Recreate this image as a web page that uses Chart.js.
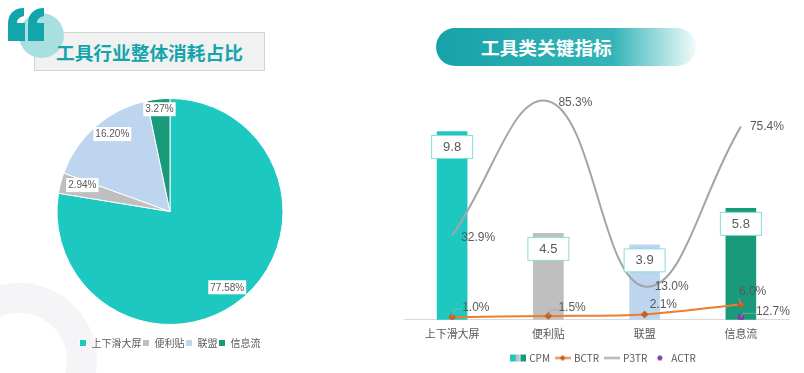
<!DOCTYPE html>
<html>
<head>
<meta charset="utf-8">
<script src="https://cdn.jsdelivr.net/npm/chart.js@4"></script>
<style>
  html, body { margin: 0; padding: 0; background: #fff; }
  #page { position: relative; width: 804px; height: 373px; overflow: hidden; font-family: "Noto Sans CJK SC", sans-serif; }
  #page > * { position: absolute; }
  .ring { left: -59px; top: 283px; width: 96px; height: 96px; border: 30px solid #f5f4f6; border-radius: 50%; }
  .title-box { left: 34px; top: 32px; width: 229px; height: 37px; background: #f1f1f1; border: 1px solid #d3d3d3; }
  .circle { left: 19px; top: 13px; width: 45px; height: 45px; border-radius: 50%; background: #a8e0e0; }
  .quote { left: 0; top: 0; }
  .title-left { left: 56px; top: 37px; font-size: 18.7px; line-height: 30px; font-weight: 700; color: #14a5ac; white-space: nowrap; }
  .pill { left: 436px; top: 28px; width: 260px; height: 38px; border-radius: 19px;
    background: linear-gradient(90deg, #16a3a8 0%, #33b4b8 68%, #f2fbfb 100%); }
  .title-right { left: 481px; top: 32px; font-size: 18.7px; line-height: 30px; font-weight: 700; color: #fff; white-space: nowrap; }
  #pieChart { left: 0; top: 86px; }
  #barChart { left: 395px; top: 74px; }
</style>
</head>
<body>
<div id="page">
  <div class="ring"></div>
  <div class="title-box"></div>
  <div class="circle"></div>
  <svg class="quote" width="60" height="50">
    <path d="M24 8 C14 8 8 14 8 24 V41 H25 V23 H17 C17 19 20 17 24 16 Z" fill="#12a5ab"/>
    <path d="M44 8 C34 8 28 14 28 24 V41 H44 V23 H37 C37 19 40 17 44 16 Z" fill="#12a5ab"/>
  </svg>
  <div class="title-left">工具行业整体消耗占比</div>
  <div class="pill"></div>
  <div class="title-right">工具类关键指标</div>
  <canvas id="pieChart" width="340" height="272"></canvas>
  <canvas id="barChart" width="405" height="299"></canvas>
</div>

<script>
// values
const pieLabels = ['上下滑大屏', '便利贴', '联盟', '信息流'];
const pieValues = [77.58, 2.94, 16.20, 3.27];
const pieColors = ['#1dc8c1', '#bfbfbf', '#bdd5ee', '#199a7b'];

const categories = ['上下滑大屏', '便利贴', '联盟', '信息流'];
const cpmValues = [9.8, 4.5, 3.9, 5.8];
const bctrValues = [1.0, 1.5, 2.1, 6.0];
const p3trValues = [32.9, 85.3, 13.0, 75.4];
const actrValues = [null, null, null, 12.7];

const textColor = '#595959';
const cjkFont = '"Noto Sans CJK SC", sans-serif';
const latinFont = '"Liberation Sans", sans-serif';

// how far along the radius each pie label sits, plus a small nudge in px
const pieLabelRadius = [0.81, 0.82, 0.86, 0.91];
const pieLabelNudge = [[-2, 6], [2, -3], [6, -4], [0, 0]];

// label offsets from their point: [dx, dy, leader line yes/no]
const p3trOffsets = [[9, 2], [10, 1], [10, 0], [9, 0]];
const bctrOffsets = [[10, -10, true], [10, -8, true], [5, -10, false], [-2, -13, true]];
const actrOffsets = [[0, 0], [0, 0], [0, 0], [15, -6, true]];

const pieLabelPlugin = {
  id: 'pieLabels',
  afterDatasetsDraw(chart) {
    const ctx = chart.ctx;
    const arcs = chart.getDatasetMeta(0).data;
    ctx.save();
    ctx.font = '10px ' + latinFont;
    ctx.textAlign = 'center';
    ctx.textBaseline = 'middle';
    arcs.forEach((arc, i) => {
      const mid = (arc.startAngle + arc.endAngle) / 2;
      const r = arc.outerRadius * pieLabelRadius[i];
      const x = arc.x + Math.cos(mid) * r + pieLabelNudge[i][0];
      const y = arc.y + Math.sin(mid) * r + pieLabelNudge[i][1];
      const text = pieValues[i].toFixed(2) + '%';
      const w = ctx.measureText(text).width + 4;
      ctx.fillStyle = '#fff';
      ctx.fillRect(x - w / 2, y - 7, w, 14);
      ctx.fillStyle = textColor;
      ctx.fillText(text, x, y + 0.5);
    });
    ctx.restore();
  }
};

function drawPointLabels(chart, datasetIndex, values, offsets) {
  const ctx = chart.ctx;
  chart.getDatasetMeta(datasetIndex).data.forEach((pt, i) => {
    if (values[i] == null) return;
    const [dx, dy, leader] = offsets[i];
    const x = pt.x + dx;
    const y = pt.y + dy;
    if (leader) {
      ctx.strokeStyle = '#a6a6a6';
      ctx.lineWidth = 0.75;
      ctx.beginPath();
      ctx.moveTo(pt.x, pt.y);
      ctx.lineTo(pt.x + Math.min(dx, 2), y + (dy < -11 ? 7 : 2));
      ctx.lineTo(x, y + (dy < -11 ? 7 : 2));
      ctx.stroke();
    }
    ctx.fillStyle = textColor;
    ctx.fillText(values[i].toFixed(1) + '%', x, y);
  });
}

const barLabelPlugin = {
  id: 'barLabels',
  // the legend sits a little right of the plot centre
  afterLayout(chart) {
    chart.legend.left += 7;
    chart.legend.right += 7;
  },
  afterDatasetsDraw(chart) {
    const ctx = chart.ctx;
    ctx.save();
    ctx.font = '12px ' + latinFont;
    ctx.textAlign = 'left';
    ctx.textBaseline = 'middle';
    drawPointLabels(chart, 1, bctrValues, bctrOffsets);
    drawPointLabels(chart, 2, p3trValues, p3trOffsets);
    drawPointLabels(chart, 3, actrValues, actrOffsets);

    // boxed CPM values hanging just under the bar tops
    ctx.font = '13px ' + latinFont;
    ctx.textAlign = 'center';
    chart.getDatasetMeta(0).data.forEach((bar, i) => {
      ctx.fillStyle = '#fff';
      ctx.strokeStyle = '#87ddd8';
      ctx.lineWidth = 1;
      ctx.fillRect(bar.x - 20.5, bar.y + 4, 41, 23);
      ctx.strokeRect(bar.x - 20.5, bar.y + 4, 41, 23);
      ctx.fillStyle = textColor;
      ctx.fillText(cpmValues[i].toFixed(1), bar.x, bar.y + 16);
    });
    ctx.restore();
  }
};

// little legend swatches
function makeSwatch(draw) {
  const c = document.createElement('canvas');
  c.width = 16;
  c.height = 9;
  draw(c.getContext('2d'));
  return c;
}

const cpmSwatch = makeSwatch(g => {
  pieColors.forEach((col, i) => {
    g.fillStyle = col;
    g.fillRect([0, 6, 9, 11][i], 1, [6, 3, 2, 5][i], 7);
  });
});
const bctrSwatch = makeSwatch(g => {
  g.fillStyle = '#ed7d31';
  g.fillRect(0, 3.5, 16, 2);
  g.fillStyle = '#c8601e';
  g.beginPath();
  g.moveTo(8, 1.5); g.lineTo(11, 4.5); g.lineTo(8, 7.5); g.lineTo(5, 4.5);
  g.fill();
});
const p3trSwatch = makeSwatch(g => {
  g.fillStyle = '#a5a5a5';
  g.fillRect(0, 3.5, 16, 2);
});
const actrSwatch = makeSwatch(g => {
  g.fillStyle = '#7b3fa0';
  g.beginPath();
  g.arc(8, 4.5, 2.5, 0, Math.PI * 2);
  g.fill();
});
const swatches = [cpmSwatch, bctrSwatch, p3trSwatch, actrSwatch];

new Chart(document.getElementById('pieChart'), {
  type: 'pie',
  plugins: [pieLabelPlugin],
  data: {
    labels: pieLabels,
    datasets: [{
      data: pieValues,
      backgroundColor: pieColors,
      borderColor: '#fff',
      borderWidth: 1,
      radius: 113
    }]
  },
  options: {
    responsive: false,
    animation: false,
    plugins: {
      tooltip: { enabled: false },
      legend: {
        position: 'bottom',
        labels: {
          boxWidth: 7,
          boxHeight: 7,
          padding: 1,
          color: textColor,
          font: { family: cjkFont, size: 10 }
        }
      }
    }
  }
});

new Chart(document.getElementById('barChart'), {
  plugins: [barLabelPlugin],
  data: {
    labels: categories,
    datasets: [
      {
        type: 'bar',
        label: 'CPM',
        data: cpmValues,
        backgroundColor: pieColors,
        barThickness: 30,
        yAxisID: 'yCpm',
        order: 4
      },
      {
        type: 'line',
        label: 'BCTR',
        data: bctrValues,
        borderColor: '#ed7d31',
        borderWidth: 2,
        tension: 0.3,
        pointStyle: 'rectRot',
        pointRadius: 2.5,
        pointBackgroundColor: '#c8601e',
        pointBorderColor: '#c8601e',
        yAxisID: 'yRate',
        order: 2
      },
      {
        type: 'line',
        label: 'P3TR',
        data: p3trValues,
        borderColor: '#a5a5a5',
        borderWidth: 2,
        tension: 0.42,
        pointRadius: 0,
        yAxisID: 'yRate',
        order: 3
      },
      {
        type: 'line',
        label: 'ACTR',
        data: actrValues,
        showLine: false,
        pointRadius: 3,
        pointBackgroundColor: '#7b3fa0',
        pointBorderColor: '#7b3fa0',
        yAxisID: 'yActr',
        order: 1
      }
    ]
  },
  options: {
    responsive: false,
    animation: false,
    layout: { padding: { left: 9, right: 11 } },
    plugins: {
      tooltip: { enabled: false },
      legend: {
        position: 'bottom',
        labels: {
          usePointStyle: true,
          pointStyleWidth: 13,
          padding: 6,
          color: textColor,
          font: { family: cjkFont, size: 10 },
          generateLabels(chart) {
            return chart.data.datasets.map((ds, i) => ({
              text: ds.label,
              fontColor: textColor,
              pointStyle: swatches[i],
              datasetIndex: i
            }));
          }
        }
      }
    },
    scales: {
      x: {
        grid: { display: false, drawTicks: false },
        border: { color: '#d9d9d9' },
        ticks: { color: textColor, font: { family: cjkFont, size: 11 }, padding: 7 }
      },
      yCpm: { display: false, min: 0, max: 12.48 },
      yRate: { display: false, min: 0, max: 93.6 },
      yActr: { display: false, min: 0, max: 1230 }
    }
  }
});
</script>
</body>
</html>
